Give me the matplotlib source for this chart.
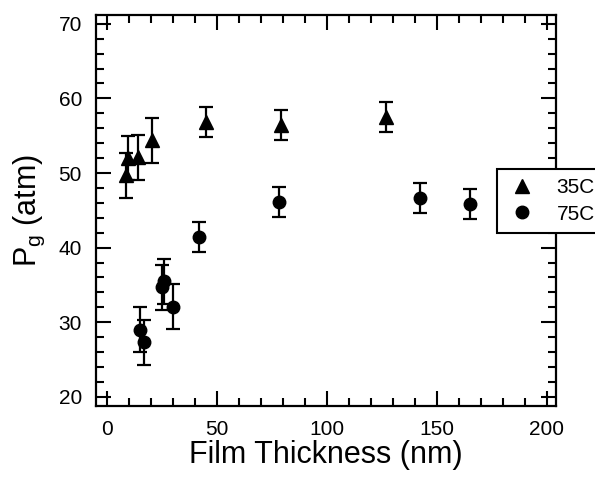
import matplotlib
matplotlib.use("Agg")
import matplotlib.pyplot as plt
from matplotlib.lines import Line2D
from matplotlib.ticker import MultipleLocator

plt.rcParams["font.family"] = ["Liberation Sans", "DejaVu Sans"]

# 35C series (triangles)
x_35c = [8.6, 9.5, 14.0, 20.4, 45.0, 79.0, 127.0]
y_35c = [49.7, 52.0, 52.1, 54.4, 56.8, 56.4, 57.5]
err_35c = [3.0, 3.0, 3.0, 3.0, 2.0, 2.0, 2.0]

# 75C series (circles)
x_75c = [15.0, 17.0, 25.3, 26.2, 30.3, 42.0, 78.3, 142.5, 165.0]
y_75c = [29.0, 27.3, 34.7, 35.5, 32.1, 41.4, 46.1, 46.7, 45.9]
err_75c = [3.0, 3.0, 3.0, 3.0, 3.0, 2.0, 2.0, 2.0, 2.0]

x_ticks = [0, 50, 100, 150, 200]
y_ticks = [20, 30, 40, 50, 60, 70]

fig = plt.figure(figsize=(5.95, 4.78), dpi=100)
ax = fig.add_axes([0.161, 0.151, 0.773, 0.818])

style = dict(color="black", ecolor="black", elinewidth=1.6, capsize=4.8,
             capthick=1.6, linestyle="none")
ax.errorbar(x_35c, y_35c, yerr=err_35c, marker="^", markersize=10, **style)
ax.errorbar(x_75c, y_75c, yerr=err_75c, marker="o", markersize=9, **style)

ax.set_xlim(-5, 204)
ax.set_ylim(18.8, 71.2)
ax.set_xticks(x_ticks)
ax.set_yticks(y_ticks)
ax.xaxis.set_minor_locator(MultipleLocator(10))
ax.yaxis.set_minor_locator(MultipleLocator(2))
ax.tick_params(which="both", direction="in", top=True, right=True, width=1.5,
               labelsize=15, pad=10)
ax.tick_params(which="major", length=11)
ax.tick_params(which="minor", length=5.5)
for s in ax.spines.values():
    s.set_linewidth(1.6)

ax.set_xlabel("Film Thickness (nm)", fontsize=22, labelpad=1)
ax.set_ylabel("P$_\\mathregular{g}$ (atm)", fontsize=22, labelpad=8)

handles = [
    Line2D([], [], color="black", marker="^", markersize=10, linestyle="none"),
    Line2D([], [], color="black", marker="o", markersize=9, linestyle="none"),
]
leg = ax.legend(handles, ["35C", "75C"], loc="upper left",
                bbox_to_anchor=(497 / 595, 1 - 169 / 478),
                bbox_transform=fig.transFigure, fontsize=15, frameon=True,
                fancybox=False, framealpha=1, borderpad=0.45,
                handletextpad=0.9, handlelength=1.5, labelspacing=0.35,
                borderaxespad=0)
leg.get_frame().set_edgecolor("black")
leg.get_frame().set_linewidth(1.5)

fig.savefig("out.png", dpi=100)
